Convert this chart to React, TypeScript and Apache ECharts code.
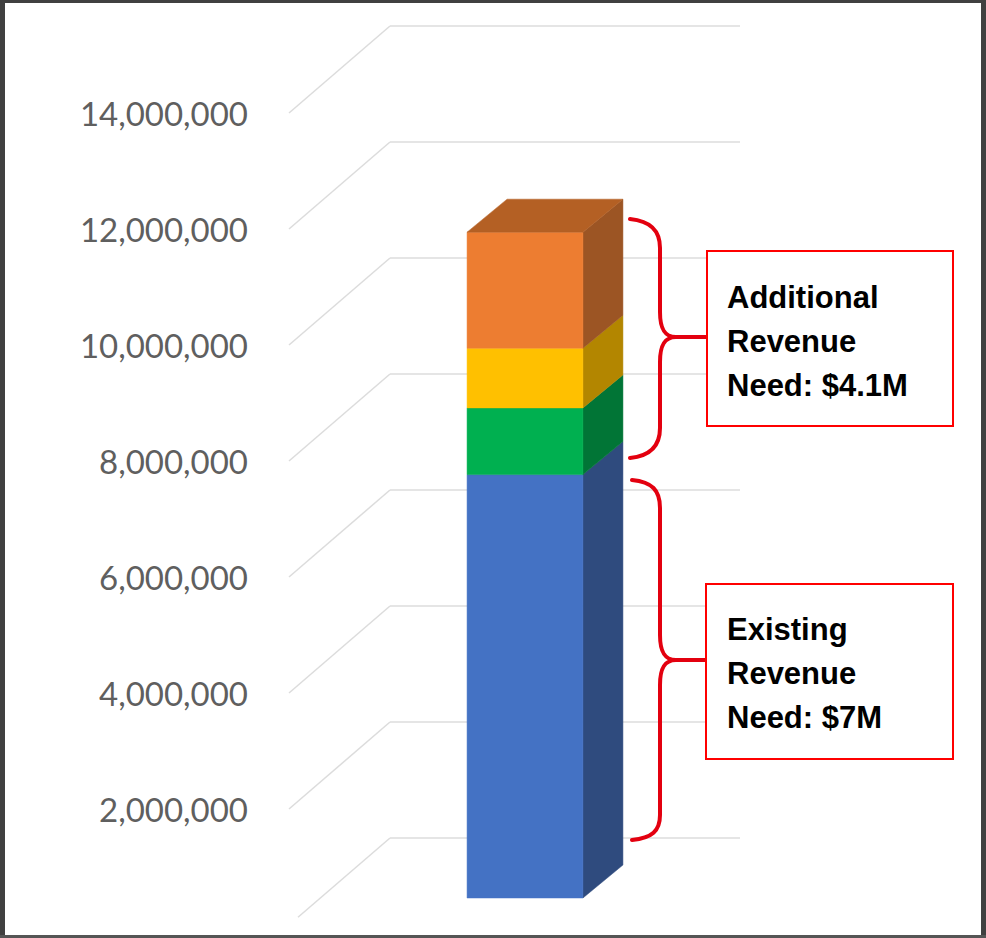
import React, { useEffect, useRef } from "react";
import * as echarts from "echarts";

// ---- data ----
const categories = ["Revenue"];
const existingRevenue = [7300000];
const additionalGreen = [1150000];
const additionalYellow = [1030000];
const additionalOrange = [2000000];
const yTicks = [0, 2000000, 4000000, 6000000, 8000000, 10000000, 12000000, 14000000];

const segmentNames = ["Existing", "Additional 1", "Additional 2", "Additional 3"];
const segmentValues = [existingRevenue, additionalGreen, additionalYellow, additionalOrange];
const segmentColors = [
  { front: "#4472C4", side: "#2F4B7E", top: "#3A61A8" },
  { front: "#00B050", side: "#017536", top: "#00964A" },
  { front: "#FFC000", side: "#B38600", top: "#D9A300" },
  { front: "#ED7D31", side: "#9C5524", top: "#B46024" },
];

const boxTexts = ["Additional\nRevenue\nNeed: $4.1M", "Existing\nRevenue\nNeed: $7M"];

// ---- style constants ----
const DEPTH_DX = 101;
const DEPTH_DY = 87;
const BAR_SHIFT_X = 61;
const BAR_FRONT_DY = 27;
const BAR_WIDTH_FRAC = 0.331;
const SIDE_DX = 40;
const SIDE_DY = 33;

const brace1 =
  "M630,219 C650,221 660,230 660,248 L660,312 C660,328 664,337 676,337 L707,337 M676,337 C664,337 660,346 660,362 L660,428 C660,446 650,456 630,458";
const brace2 =
  "M632,480 C652,482 660,490 660,508 L660,635 C660,651 664,660 676,660 L706,660 M676,660 C664,660 660,669 660,685 L660,815 C660,831 652,838 632,840";
echarts.graphic.registerShape("brace1", echarts.graphic.extendPath(brace1, {}));
echarts.graphic.registerShape("brace2", echarts.graphic.extendPath(brace2, {}));

export default function App() {
  const ref = useRef<HTMLDivElement>(null);
  useEffect(() => {
    if (!ref.current) return;
    const chart = echarts.init(ref.current, undefined, { renderer: "svg" });

    const gridSeries = {
      type: "custom",
      name: "grid",
      silent: true,
      z: 1,
      data: yTicks.map((t) => [0, t]),
      renderItem: (params: any, api: any) => {
        const cs = params.coordSys;
        const p = api.coord([0, api.value(1)]);
        const y = p[1];
        const x0 = cs.x;
        const style = { stroke: "#dcdcdc", lineWidth: 1.5 };
        const isZero = api.value(1) === 0;
        const fx = isZero ? x0 + 9 : x0;
        const fy = isZero ? y - 9 * (DEPTH_DY / DEPTH_DX) : y;
        return {
          type: "group",
          children: [
            { type: "line", shape: { x1: fx, y1: fy, x2: x0 + DEPTH_DX, y2: y - DEPTH_DY }, style },
            {
              type: "line",
              shape: { x1: x0 + DEPTH_DX, y1: y - DEPTH_DY, x2: cs.x + cs.width + DEPTH_DX, y2: y - DEPTH_DY },
              style,
            },
          ],
        };
      },
    };

    const barSeries: any[] = [];
    const cum: number[] = categories.map(() => 0);
    segmentValues.forEach((vals, si) => {
      const data = vals.map((v, ci) => {
        const base = cum[ci];
        cum[ci] += v;
        return [ci, base, cum[ci], v];
      });
      const isTop = si === segmentValues.length - 1;
      const col = segmentColors[si];
      barSeries.push({
        type: "custom",
        name: segmentNames[si],
        z: 2 + si,
        data,
        encode: { x: 0, y: [1, 2] },
        renderItem: (params: any, api: any) => {
          const ci = api.value(0);
          const pb = api.coord([ci, api.value(1)]);
          const pt = api.coord([ci, api.value(2)]);
          const bw = api.size([1, 0])[0] * BAR_WIDTH_FRAC;
          const cx = pb[0] + BAR_SHIFT_X;
          const xl = cx - bw / 2;
          const xr = cx + bw / 2;
          const yb = pb[1] - BAR_FRONT_DY;
          const yt = pt[1] - BAR_FRONT_DY;
          const children: any[] = [
            {
              type: "polygon",
              shape: { points: [[xr, yt], [xr + SIDE_DX, yt - SIDE_DY], [xr + SIDE_DX, yb - SIDE_DY], [xr, yb]] },
              style: { fill: col.side, stroke: col.side, lineWidth: 0.5 },
            },
            {
              type: "rect",
              shape: { x: xl, y: yt, width: bw, height: yb - yt },
              style: { fill: col.front, stroke: col.front, lineWidth: 0.5 },
            },
          ];
          if (isTop) {
            children.push({
              type: "polygon",
              shape: { points: [[xl, yt], [xr, yt], [xr + SIDE_DX, yt - SIDE_DY], [xl + SIDE_DX, yt - SIDE_DY]] },
              style: { fill: col.top, stroke: col.top, lineWidth: 0.5 },
            });
          }
          return { type: "group", children };
        },
      });
    });

    const braceStyle = { fill: "none", stroke: "#E3000F", lineWidth: 4, lineCap: "round", lineJoin: "round" };
    const textFont = { fontFamily: "Liberation Sans", fontWeight: "bold", fontSize: 31, lineHeight: 44, fill: "#000" };

    chart.setOption({
      animation: false,
      backgroundColor: "#ffffff",
      grid: { left: 289, right: 347, top: 113, bottom: 13 },
      xAxis: {
        type: "category",
        data: categories,
        show: false,
      },
      yAxis: {
        type: "value",
        min: 0,
        max: 14000000,
        interval: 2000000,
        axisLine: { show: false },
        axisTick: { show: false },
        splitLine: { show: false },
        axisLabel: {
          margin: 41,
          color: "#5f5f5f",
          fontFamily: "Lato",
          fontSize: 33,
          formatter: (v: number) => (v === 0 ? "" : v.toLocaleString("en-US")),
        },
      },
      series: [gridSeries, ...barSeries],
      graphic: [
        { type: "brace1", x: 0, y: 0, z: 10, style: braceStyle },
        { type: "brace2", x: 0, y: 0, z: 10, style: braceStyle },
        {
          type: "rect",
          z: 10,
          shape: { x: 707, y: 251, width: 246, height: 175 },
          style: { fill: "#fff", stroke: "#FF0000", lineWidth: 2 },
        },
        {
          type: "rect",
          z: 10,
          shape: { x: 706, y: 584, width: 247, height: 175 },
          style: { fill: "#fff", stroke: "#FF0000", lineWidth: 2 },
        },
        {
          type: "text",
          z: 11,
          x: 727,
          y: 275,
          style: { ...textFont, text: boxTexts[0], verticalAlign: "top", align: "left" },
        },
        {
          type: "text",
          z: 11,
          x: 727,
          y: 607,
          style: { ...textFont, text: boxTexts[1], verticalAlign: "top", align: "left" },
        },
        { type: "rect", z: 20, shape: { x: 0, y: 0, width: 986, height: 3 }, style: { fill: "#404040" } },
        { type: "rect", z: 20, shape: { x: 0, y: 0, width: 5, height: 938 }, style: { fill: "#404040" } },
        { type: "rect", z: 20, shape: { x: 981, y: 0, width: 5, height: 938 }, style: { fill: "#404040" } },
        { type: "rect", z: 20, shape: { x: 0, y: 935, width: 986, height: 3 }, style: { fill: "#555555" } },
      ],
    });
    return () => chart.dispose();
  }, []);

  return <div ref={ref} style={{ position: "absolute", left: 0, top: 0, width: 986, height: 938 }} />;
}
